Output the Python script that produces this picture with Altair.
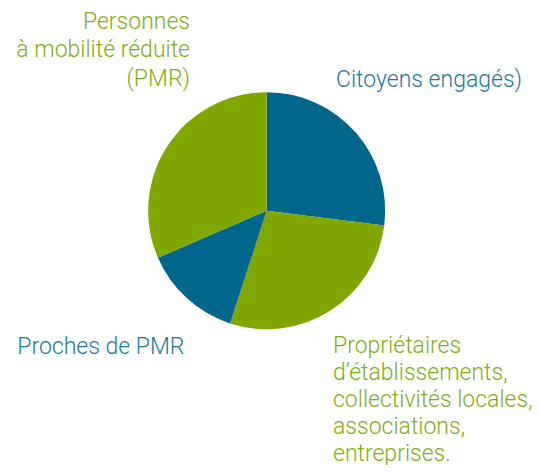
import altair as alt
import pandas as pd

categories = ["Citoyens engagés)", "Propriétaires", "Proches de PMR", "Personnes à mobilité réduite (PMR)"]
values = [27, 28, 13.5, 31.5]
groups = ["bleu", "vert", "bleu", "vert"]

pie_df = pd.DataFrame({"cat": categories, "val": values, "grp": groups, "ord": list(range(len(values)))})

BLUE = "#00668c"
GREEN = "#80a600"
TBLUE = "#1f78a0"
TGREEN = "#84ad14"

cx, cy = 258.7, 202.7

pie = alt.Chart(pie_df).mark_arc(outerRadius=118.5, stroke=None).encode(
    theta=alt.Theta("val:Q", stack=True),
    order=alt.Order("ord:Q"),
    color=alt.Color("grp:N", scale=alt.Scale(domain=["bleu", "vert"], range=[BLUE, GREEN]), legend=None),
    x=alt.value(cx),
    y=alt.value(cy),
)

font = dict(font="Roboto", fontSize=23, fontWeight=300, baseline="alphabetic")

def label(text, x, y, align, color, lh=28.3):
    return alt.Chart(pd.DataFrame({"t": [text]})).mark_text(
        align=align, color=color, lineBreak="\n", lineHeight=lh, **font
    ).encode(text="t:N", x=alt.value(x), y=alt.value(y))

lab_pmr = label("Personnes\nà mobilité réduite\n(PMR)", 182, 21, "right", TGREEN)
lab_cit = label("Citoyens engagés)", 328, 79.3, "left", TBLUE)
lab_pro = label("Proches de PMR", 9.3, 346.3, "left", TBLUE)
lab_prop = label("Propriétaires\nd’établissements,\ncollectivités locales,\nassociations,\nentreprises.", 325, 344.5, "left", TGREEN, lh=27)

chart = alt.layer(pie, lab_pmr, lab_cit, lab_pro, lab_prop).properties(
    width=526, height=457, padding=0, autosize=alt.AutoSizeParams(type="fit", contains="padding")
).configure_view(stroke=None)

chart.save("out.html", embed_options={"renderer": "svg", "actions": False})
